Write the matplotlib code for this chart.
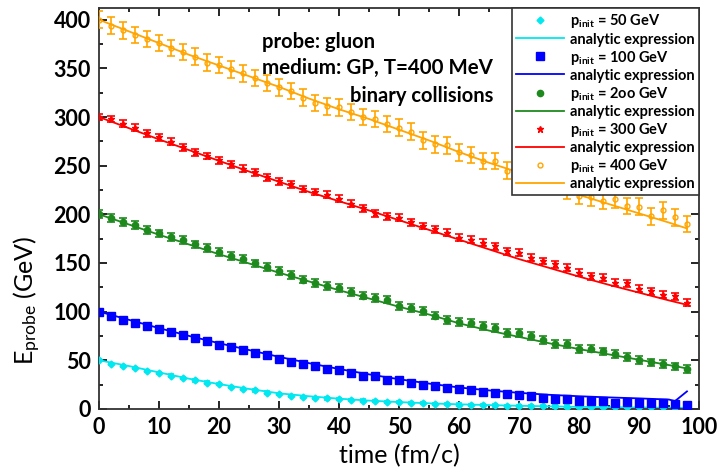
import matplotlib.pyplot as plt
from matplotlib.ticker import MultipleLocator

plt.rcParams['font.family'] = ['Lato', 'DejaVu Sans']
plt.rcParams['font.weight'] = 'bold'
plt.rcParams['mathtext.fontset'] = 'custom'
plt.rcParams['mathtext.rm'] = 'Lato:bold'
plt.rcParams['mathtext.it'] = 'Lato:bold'
plt.rcParams['mathtext.bf'] = 'Lato:bold'

# simulation points, every 2 fm/c
t_pts = [0, 2, 4, 6, 8, 10, 12, 14, 16, 18, 20, 22, 24, 26, 28, 30, 32, 34, 36, 38,
         40, 42, 44, 46, 48, 50, 52, 54, 56, 58, 60, 62, 64, 66, 68, 70, 72, 74, 76, 78,
         80, 82, 84, 86, 88, 90, 92, 94, 96, 98]

e50 = [50, 46.4, 44.3, 42, 39.2, 36.8, 34.3, 31.6, 29.2, 27.1, 25.4, 22.4, 20.3, 18.9, 16.8,
       15.5, 13.4, 12.5, 11.5, 10.8, 10, 9.3, 8.6, 8, 7.4, 6.8, 6.3, 5.8, 5.3, 4.9, 4.5, 4.2,
       3.9, 3.6, 3.3, 3.1, 2.9, 2.7, 2.5, 2.4, 2.2, 2.1, 2.0, 1.9, 1.8, 1.7, 1.6, 1.6, 1.5, 1.5]
e100 = [100, 95, 91.8, 88.3, 85.6, 82, 79, 76.3, 73, 69.4, 66, 63.2, 60.8, 57.4, 55.7, 51.2,
        47.7, 46.4, 43.6, 40.9, 40.2, 37.4, 34, 33.3, 29.9, 29.2, 26.5, 24.7, 23.7, 21.3, 20.3,
        18.9, 17.8, 16.1, 15.5, 14.4, 13.4, 11.6, 10, 10, 8.6, 8.2, 8.2, 6.5, 6.9, 5.9, 5.9,
        5.9, 5.2, 4.1]
e200 = [200, 196.6, 192, 188.7, 184, 180.4, 177, 173.5, 169, 165.6, 161.5, 157, 154, 149.5,
        146, 142, 138, 133, 129.6, 126, 124.4, 120, 116.5, 114, 112.4, 105.5, 103.8, 100.3,
        95.9, 91, 89, 88.3, 85.6, 83.2, 78, 78, 75.3, 71, 67, 67, 61.5, 62, 59, 56.4, 53.3,
        50.5, 47.7, 46.4, 43.6, 41]
e300 = [300, 298, 293, 289, 283.5, 279, 274.5, 269, 263.6, 260, 255.7, 251.5, 247, 243, 238,
        234, 231, 226, 223, 220, 216, 211, 206, 201, 198, 196.6, 192, 188, 184.5, 181, 176,
        174, 171, 167.3, 162, 160.5, 155.4, 152, 148.5, 145, 140, 136.5, 135, 129.6, 128.9,
        123.4, 121, 117.5, 115.8, 109]
e400 = [400, 394, 389, 384.5, 380, 376, 371, 367, 362, 356, 353.6, 349, 345, 340, 335, 330.6,
        327, 320, 314.4, 311, 310, 305, 300, 298, 293, 289, 285, 276, 272, 271, 263.6, 261,
        255, 255, 245, 242, 238, 234, 229, 224, 219, 217.5, 214, 215.5, 208.6, 208, 198, 204,
        197, 190]

# error bar half widths
err50, err100, err200, err300, err400 = 1.2, 2.0, 4.0, 3.5, 8.5

# analytic curves
t_line = [0, 5, 10, 15, 20, 25, 30, 35, 40, 45, 50, 55, 60, 65, 70, 75, 80, 85, 90, 95, 96, 98]
a50 = [50, 44, 37.5, 31, 25.5, 20.5, 16, 13, 10.5, 8.5, 7, 5.7, 4.7, 3.9, 3.2, 2.6, 2.1, 1.7,
       1.4, 1.1, 1.05, 1.0]
a100 = [100, 91.5, 83, 75, 67.5, 60.5, 53.5, 47, 41, 35.5, 30.5, 26, 22, 19, 16.5, 14.5, 13,
        11.8, 10.8, 9.6, 8, 18]
a200 = [200, 189.5, 179, 169, 159, 149.5, 140, 131, 122, 113.5, 105, 97, 88, 80.5, 74, 67.5,
        61.5, 56, 50.5, 45, 44, 41.5]
a300 = [300, 288.5, 277, 266, 255, 244, 233.5, 223, 213.5, 204, 194, 184, 174, 164, 154,
        145, 136, 127.5, 119.5, 111.5, 110, 107]
a400 = [400, 388, 376, 364, 353, 342, 331, 319, 308, 298, 287, 276, 264, 253, 243, 232, 220,
        210.5, 201, 191.5, 189.5, 185.5]

labels = ['50', '100', '2oo', '300', '400']
colors = ['#00e8f0', '#0000ff', '#1e8a1e', '#ff0000', '#ffa500']
markers = ['D', 's', 'o', '*', 'o']
msizes = [3.5, 5.5, 4.5, 4.5, 3.5]
points = [e50, e100, e200, e300, e400]
errs = [err50, err100, err200, err300, err400]
curves = [a50, a100, a200, a300, a400]

fig = plt.figure(figsize=(7.18, 4.76), dpi=100)
ax = fig.add_axes([0.138, 0.141, 0.8355, 0.842])

handles = []
for lab, c, m, ms, y, er, a in zip(labels, colors, markers, msizes, points, errs, curves):
    line, = ax.plot(t_line, a, color=c, lw=1.3, zorder=2)
    ax.errorbar(t_pts, y, yerr=er, fmt='none', ecolor=c, elinewidth=1.2,
                capsize=3 if er > 3 else 2, capthick=1.2, zorder=3)
    face = 'none' if lab == '400' else c
    pt, = ax.plot(t_pts, y, ls='none', marker=m, ms=ms, color=c,
                  mfc=face, mec=c, zorder=4)
    pt.set_label(r'$\mathregular{p_{init}}$ = ' + lab + ' GeV')
    line.set_label('analytic expression')
    handles += [pt, line]

ax.set_xlim(0, 100)
ax.set_ylim(0, 412)
ax.xaxis.set_major_locator(MultipleLocator(10))
ax.xaxis.set_minor_locator(MultipleLocator(5))
ax.yaxis.set_major_locator(MultipleLocator(50))
ax.yaxis.set_minor_locator(MultipleLocator(25))
ax.tick_params(which='both', direction='in', top=True, right=True, labelsize=15.5, width=1.2)
ax.tick_params(which='major', length=6, pad=6)
ax.tick_params(which='minor', length=3)
for s in ax.spines.values():
    s.set_linewidth(1.3)
    s.set_color('#333333')

ax.set_xlabel('time (fm/c)', fontsize=18, labelpad=4)
ax.set_ylabel(r'$\mathregular{E_{probe}}$ (GeV)', fontsize=18)
ax.yaxis.set_label_coords(-0.093, 0.27)

ax.text(0.272, 0.915, 'probe: gluon', transform=ax.transAxes, fontsize=14.5, va='center')
ax.text(0.272, 0.850, 'medium: GP, T=400 MeV', transform=ax.transAxes, fontsize=14.8,
        va='center')
ax.text(0.418, 0.780, 'binary collisions', transform=ax.transAxes, fontsize=14.5, va='center')

leg = ax.legend(handles=handles, loc='upper right', bbox_to_anchor=(1.0, 1.0),
                fontsize=10.5, labelspacing=0.14, handlelength=3.3, borderpad=0.3,
                handletextpad=0.4, borderaxespad=0, fancybox=False, framealpha=1,
                edgecolor='#333333')
leg.get_frame().set_linewidth(1.2)

fig.savefig('out.png', dpi=100)
